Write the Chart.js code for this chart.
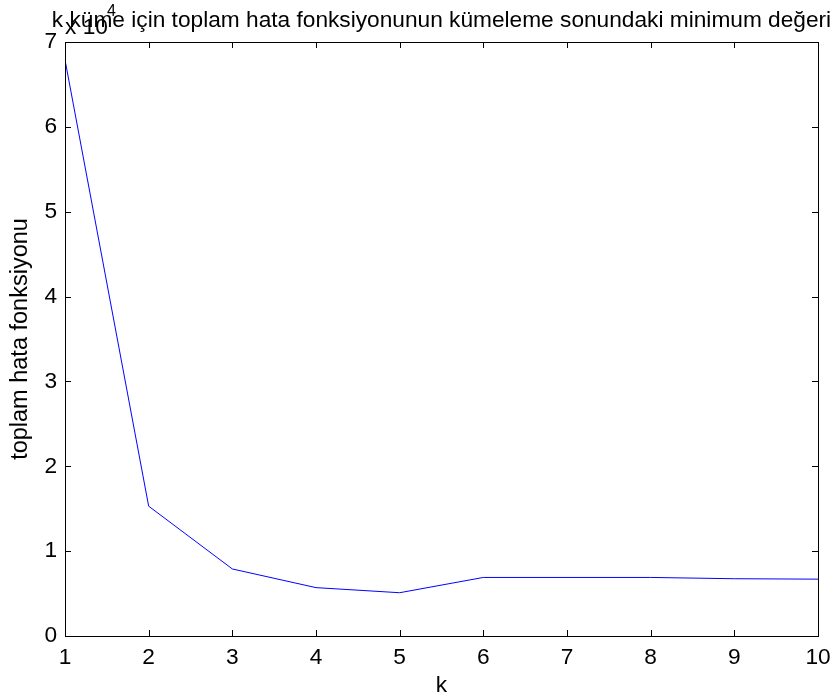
<!DOCTYPE html>
<html>
<head>
<meta charset="utf-8">
<style>
  html, body { margin: 0; padding: 0; background: #fff; }
  #wrap { width: 833px; height: 695px; }
</style>
</head>
<body>
<div id="wrap"><canvas id="myChart" width="833" height="695"></canvas></div>

<script src="https://cdn.jsdelivr.net/npm/chart.js"></script>
<script>
    // k values and the minimum total error at the end of clustering
    const kValues = [1, 2, 3, 4, 5, 6, 7, 8, 9, 10];
    const errorValues = [67900, 15300, 7900, 5700, 5100, 6900, 6900, 6900, 6750, 6700];
    const yTicks = [0, 1, 2, 3, 4, 5, 6, 7];

    const chartTitle = 'k küme için toplam hata fonksiyonunun kümeleme sonundaki minimum değeri';
    const font = '"Liberation Sans", Arial, sans-serif';
    const fs = 22.7;

    // matlab-style box with inward ticks on all four sides
    const boxPlugin = {
        id: 'box',
        afterDraw(chart) {
            const { ctx, chartArea: a, scales } = chart;
            ctx.save();
            ctx.strokeStyle = '#000';
            ctx.lineWidth = 1;
            ctx.strokeRect(a.left + 0.5, a.top + 0.5, a.right - a.left, a.bottom - a.top);
            const len = 6;
            ctx.beginPath();
            kValues.forEach(v => {
                const x = Math.round(scales.x.getPixelForValue(v)) + 0.5;
                ctx.moveTo(x, a.bottom); ctx.lineTo(x, a.bottom - len);
                ctx.moveTo(x, a.top); ctx.lineTo(x, a.top + len);
            });
            yTicks.forEach(v => {
                const y = Math.round(scales.y.getPixelForValue(v * 10000)) + 0.5;
                ctx.moveTo(a.left, y); ctx.lineTo(a.left + len, y);
                ctx.moveTo(a.right, y); ctx.lineTo(a.right - len, y);
            });
            ctx.stroke();

            // exponent label
            ctx.fillStyle = '#000';
            ctx.font = fs + 'px ' + font;
            ctx.textBaseline = 'alphabetic';
            ctx.textAlign = 'left';
            ctx.fillText('x 10', a.left, 34);
            ctx.font = '16px ' + font;
            ctx.fillText('4', a.left + 42, 16);

            // title
            ctx.font = fs + 'px ' + font;
            ctx.textAlign = 'center';
            ctx.fillText(chartTitle, (a.left + a.right) / 2, 27);
            ctx.restore();
        }
    };

    const ctx = document.getElementById('myChart');
    new Chart(ctx, {
        type: 'line',
        data: {
            datasets: [{
                data: kValues.map((k, i) => ({ x: k, y: errorValues[i] })),
                borderColor: '#0000ff',
                borderWidth: 1,
                pointRadius: 0,
                tension: 0,
                fill: false
            }]
        },
        options: {
            responsive: false,
            animation: false,
            layout: { padding: { top: 42, right: 15, left: 0, bottom: 0 } },
            plugins: {
                legend: { display: false },
                tooltip: { enabled: false }
            },
            scales: {
                x: {
                    type: 'linear',
                    min: 1,
                    max: 10,
                    afterFit(s) { s.height = 59; },
                    afterBuildTicks(s) { s.ticks = kValues.map(v => ({ value: v })); },
                    grid: { display: false },
                    border: { display: false },
                    ticks: { color: '#000', font: { family: font, size: fs }, padding: 0, maxRotation: 0 },
                    title: { display: true, text: 'k', color: '#000', font: { family: font, size: fs, lineHeight: 0.85 }, padding: { top: 0, bottom: 0 } }
                },
                y: {
                    min: 0,
                    max: 70000,
                    afterFit(s) { s.width = 65; },
                    afterBuildTicks(s) { s.ticks = yTicks.map(v => ({ value: v * 10000 })); },
                    grid: { display: false },
                    border: { display: false },
                    ticks: {
                        color: '#000', font: { family: font, size: fs }, padding: 0,
                        callback: v => String(v / 10000)
                    },
                    title: { display: true, text: 'toplam hata fonksiyonu', color: '#000', font: { family: font, size: 23.5 }, padding: { top: 6, bottom: 0 } }
                }
            }
        },
        plugins: [boxPlugin]
    });
</script>
</body>
</html>
